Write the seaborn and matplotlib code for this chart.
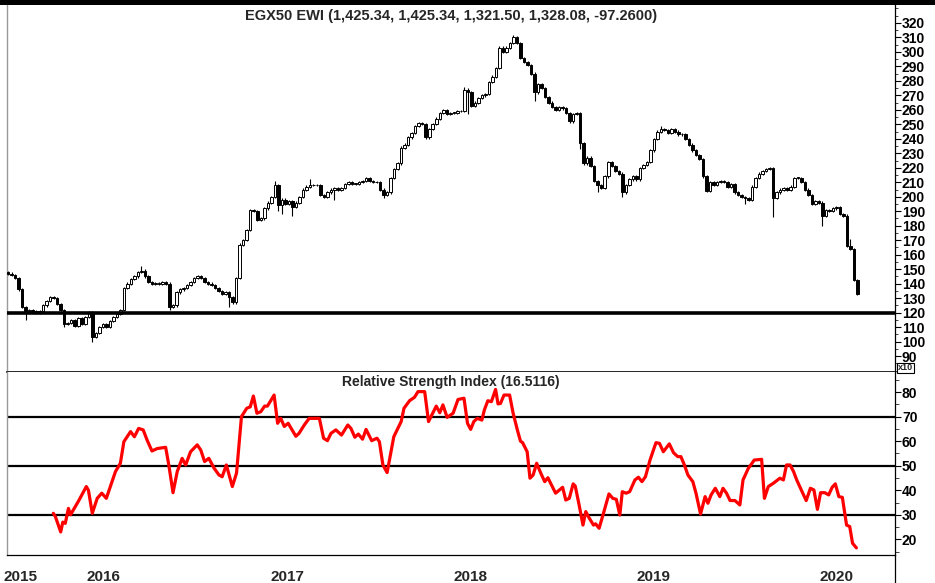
import numpy as np
import pandas as pd
import matplotlib
matplotlib.use('Agg')
import matplotlib.pyplot as plt
import matplotlib.transforms as mtransforms
from matplotlib.patches import Rectangle
from matplotlib.ticker import MultipleLocator, FixedLocator
import seaborn as sns

# weekly candles, EGX50 EWI (price shown x10)
start_date = pd.Timestamp('2015-08-04')
first_open = 148.0
closes = [
    147, 146, 144, 136, 124, 121, 122, 121, 120, 121,
    125, 128, 131, 130, 126, 122, 112, 113, 115, 111,
    116, 112, 117, 120, 103, 106, 110, 112, 110, 114,
    117, 119, 122, 137, 140, 143, 145, 148, 149, 145,
    141, 140, 140, 140, 141, 140, 124, 125, 134, 136,
    137, 139, 141, 144, 145, 144, 141, 140, 139, 137,
    135, 133, 134, 131, 127, 144, 167, 170, 177, 191,
    190, 184, 185, 192, 196, 200, 208, 194, 198, 195,
    197, 193, 196, 200, 205, 207, 208, 208, 208, 201,
    200, 203, 205, 206, 205, 206, 209, 210, 209, 209,
    210, 211, 213, 211, 210, 210, 205, 201, 203, 213,
    219, 223, 234, 236, 241, 244, 249, 251, 250, 241,
    247, 250, 254, 258, 260, 257, 258, 258, 259, 259,
    274, 272, 263, 265, 268, 270, 271, 279, 283, 289,
    303, 300, 303, 306, 310, 306, 296, 293, 291, 285,
    272, 278, 275, 269, 265, 262, 260, 262, 261, 258,
    252, 257, 258, 237, 223, 227, 221, 211, 208, 206,
    214, 224, 221, 218, 216, 203, 208, 212, 214, 212,
    220, 222, 224, 232, 240, 245, 247, 246, 244, 247,
    245, 243, 243, 240, 236, 232, 229, 226, 214, 204,
    210, 208, 210, 211, 210, 207, 209, 203, 201, 200,
    199, 198, 207, 213, 216, 218, 219, 220, 199, 203,
    205, 206, 205, 207, 213, 213, 210, 205, 201, 195,
    197, 196, 187, 191, 190, 192, 193, 188, 187, 166,
    164, 142.534, 132.808,
]
# notable long wicks (week index -> price)
wick_low = {5: 115, 16: 110, 24: 100, 46: 122, 63: 124, 77: 190, 78: 188,
            81: 187, 93: 198, 107: 199, 131: 257, 150: 266, 163: 233,
            168: 203, 175: 200, 210: 195, 218: 186, 232: 180, 242: 132.15}
wick_high = {38: 152, 76: 211, 86: 212, 130: 276, 144: 312, 186: 249,
             240: 171}

# RSI line, read as (week index, value)
rsi_week = [12.9, 13.5, 15.0, 15.6, 16.3, 17.2, 17.8, 20.0, 22.3, 22.9,
            24.0, 25.4, 26.7, 28.0, 30.6, 32.0, 33.0, 34.9, 36.0, 37.2,
            38.5, 39.6, 41.0, 42.5, 44.9, 45.8, 47.0, 48.2, 49.6, 50.6,
            52.0, 53.9, 54.9, 56.0, 57.2, 58.7, 60.1, 61.0, 62.2, 63.9,
            65.1, 66.5, 68.0, 69.0, 69.9, 70.9, 72.0, 73.1, 73.9, 75.8,
            76.8, 77.7, 78.7, 79.8, 82.0, 82.9, 84.4, 85.8, 88.7, 89.9,
            91.0, 92.0, 93.4, 95.0, 96.8, 97.7, 98.8, 99.8, 101.0, 102.0,
            103.6, 105.1, 105.8, 106.8, 108.0, 109.9, 112.0, 112.8, 114.4, 115.8,
            116.8, 118.7, 119.8, 122.0, 123.0, 123.9, 125.1, 126.8, 128.2, 129.9,
            130.9, 131.8, 132.7, 133.7, 135.0, 135.7, 136.7, 137.7, 138.9, 139.6,
            140.3, 141.3, 142.9, 143.9, 145.1, 146.0, 146.6, 147.9, 148.7, 149.6,
            150.6, 151.8, 152.9, 153.8, 156.0, 158.0, 158.9, 159.9, 161.0, 161.6,
            162.7, 163.8, 164.6, 165.6, 166.8, 167.4, 168.4, 169.5, 171.2, 172.3,
            173.3, 174.3, 175.0, 176.1, 177.1, 178.6, 179.6, 180.6, 181.6, 182.9,
            184.6, 185.6, 186.7, 188.4, 189.6, 190.8, 191.7, 192.7, 193.7, 195.1,
            196.0, 197.3, 198.6, 199.4, 200.3, 201.5, 202.8, 203.7, 204.7, 205.7,
            207.1, 208.5, 209.4, 210.9, 212.6, 214.7, 215.5, 216.6, 218.0, 219.9,
            220.9, 221.8, 222.8, 223.8, 224.7, 226.0, 227.4, 228.6, 229.6, 230.6,
            231.5, 232.7, 233.8, 234.8, 235.7, 236.7, 237.7, 238.9, 239.8, 240.6,
            241.7]
rsi_value = [30.6, 29.2, 23.0, 27.0, 26.5, 32.6, 30.0, 35.4, 41.5, 40.0,
             30.6, 36.7, 38.8, 36.7, 47.6, 51.0, 59.8, 63.9, 61.8, 65.2,
             64.6, 60.5, 56.0, 57.0, 57.5, 50.3, 39.0, 47.6, 53.0, 50.3,
             55.7, 58.5, 56.4, 51.7, 53.0, 49.0, 46.2, 45.5, 50.3, 41.5,
             47.0, 70.0, 73.4, 74.0, 78.4, 71.4, 72.0, 74.3, 74.3, 78.8,
             67.3, 69.3, 66.0, 67.3, 62.0, 63.2, 66.6, 69.3, 69.3, 61.2,
             60.2, 63.2, 64.6, 62.5, 66.6, 65.2, 61.6, 62.9, 60.8, 64.8,
             60.2, 61.2, 59.8, 50.3, 47.2, 61.8, 68.0, 73.4, 76.5, 77.9,
             80.2, 80.2, 68.0, 74.3, 71.6, 74.8, 69.7, 71.4, 77.0, 77.5,
             67.3, 64.8, 68.0, 69.3, 68.6, 72.7, 76.5, 76.1, 81.1, 75.2,
             75.4, 78.8, 78.8, 71.4, 64.6, 60.0, 59.4, 55.7, 44.9, 46.2,
             51.0, 46.9, 43.5, 45.1, 38.8, 41.2, 36.0, 36.7, 42.6, 41.7,
             34.0, 25.8, 31.3, 28.6, 25.8, 26.3, 24.5, 29.9, 38.5, 36.7,
             36.3, 29.9, 39.4, 38.8, 39.4, 44.2, 45.3, 43.5, 45.5, 52.3,
             59.4, 59.1, 55.7, 58.9, 55.3, 53.7, 53.7, 50.3, 46.2, 43.5,
             38.8, 30.3, 37.4, 34.7, 38.1, 40.8, 37.4, 40.8, 38.8, 35.8,
             35.8, 34.0, 44.2, 48.9, 52.3, 52.6, 36.7, 41.5, 42.8, 44.9,
             44.2, 50.3, 50.3, 47.6, 44.2, 40.1, 35.8, 40.8, 40.1, 32.2,
             39.0, 39.0, 38.1, 41.2, 42.6, 37.4, 37.1, 25.8, 25.2, 18.4,
             16.5]

support_level = 120
rsi_levels = [30, 50, 70]
years = [2016, 2017, 2018, 2019, 2020]

price_title = 'EGX50 EWI (1,425.34, 1,425.34, 1,321.50, 1,328.08, -97.2600)'
rsi_title = 'Relative Strength Index (16.5116)'

sns.set_style('white')
plt.rcParams['font.family'] = ['Liberation Sans', 'DejaVu Sans']
plt.rcParams['font.weight'] = 'bold'

W, H = 935, 583
fig = plt.figure(figsize=(W / 100, H / 100), dpi=100)
L, R = 7 / W, 895 / W
ax1 = fig.add_axes([L, 1 - 372 / H, R - L, 367 / H])
ax2 = fig.add_axes([L, 1 - 555 / H, R - L, 183 / H])

# candles
closes = np.array(closes, dtype=float)
opens = np.concatenate([[first_open], closes[:-1]])
xs = np.arange(len(closes))
body_lo = np.minimum(opens, closes)
body_hi = np.maximum(opens, closes)
lows = np.array([wick_low.get(i, body_lo[i] - 0.8) for i in xs])
highs = np.array([wick_high.get(i, body_hi[i] + 0.8) for i in xs])
up = closes >= opens

ax1.vlines(xs, lows, highs, color='black', lw=0.8, zorder=2)
heights = np.maximum(body_hi - body_lo, 0.4)
ax1.bar(xs[up], heights[up], bottom=body_lo[up], width=0.72,
        facecolor='white', edgecolor='black', lw=0.7, zorder=3)
ax1.bar(xs[~up], heights[~up], bottom=body_lo[~up], width=0.72,
        facecolor='black', edgecolor='black', lw=0.7, zorder=3)
ax1.axhline(support_level, color='black', lw=2.6, zorder=4)

x0, x1 = -0.3, 252.7
ax1.set_xlim(x0, x1)
ax1.set_ylim(79.0, 332.4)
ax1.set_xticks([])
ax1.yaxis.tick_right()
ax1.yaxis.set_major_locator(FixedLocator(np.arange(90, 321, 10)))
ax1.yaxis.set_minor_locator(MultipleLocator(5))
ax1.tick_params(axis='y', which='major', length=4, width=0.8, pad=1,
                labelsize=10, colors='black')
ax1.tick_params(axis='y', which='minor', length=2.5, width=0.6)
ax1.text(0.5, 0.988, price_title, transform=ax1.transAxes, ha='center',
         va='top', fontsize=10.5, fontweight='bold')

# RSI panel
for lv in rsi_levels:
    ax2.axhline(lv, color='black', lw=1.6, zorder=1)
sns.lineplot(x=rsi_week, y=rsi_value, ax=ax2, color='#ff0000', lw=2.3,
             sort=False, zorder=3)
ax2.set_xlim(x0, x1)
ax2.set_ylim(13.6, 88.2)
ax2.set_xlabel('')
ax2.set_ylabel('')
ax2.yaxis.tick_right()
ax2.yaxis.set_major_locator(FixedLocator(np.arange(20, 81, 10)))
ax2.yaxis.set_minor_locator(MultipleLocator(5))
ax2.tick_params(axis='y', which='major', length=4, width=0.8, pad=1,
                labelsize=10, colors='black')
ax2.tick_params(axis='y', which='minor', length=3, width=0.6)
ax2.text(0.5, 0.985, rsi_title, transform=ax2.transAxes, ha='center',
         va='top', fontsize=10, fontweight='bold')

# date axis: year ticks and month ticks
def week_of(d):
    return (pd.Timestamp(d) - start_date).days / 7.0

year_pos = [week_of(f'{y}-01-01') for y in years]
month_pos = [week_of(d) for d in pd.date_range('2015-09-01', '2020-06-01', freq='MS')]
ax2.xaxis.set_major_locator(FixedLocator(year_pos))
ax2.xaxis.set_minor_locator(FixedLocator(month_pos))
ax2.set_xticklabels([])
ax2.tick_params(axis='x', which='major', length=28, width=0.9, colors='black')
ax2.tick_params(axis='x', which='minor', length=7, width=0.7)
blend = mtransforms.blended_transform_factory(ax2.transData, ax2.transAxes)
ax2.text(x0 - 1.0, -0.12, '2015', transform=blend, ha='left', va='center',
         fontsize=11, fontweight='bold', clip_on=False)
for y, p in zip(years, year_pos):
    ax2.text(p + 1.0, -0.12, str(y), transform=blend, ha='left', va='center',
             fontsize=11, fontweight='bold', clip_on=False)

for ax in (ax1, ax2):
    for s in ('left', 'right', 'top', 'bottom'):
        ax.spines[s].set_visible(True)
    ax.spines['left'].set_color('#9a9a9a')
    ax.spines['left'].set_linewidth(1.0)
    ax.spines['right'].set_color('black')
    ax.spines['right'].set_linewidth(0.9)
    ax.spines['bottom'].set_color('black')
    ax.spines['bottom'].set_linewidth(0.9)
ax1.spines['top'].set_visible(False)
ax2.spines['top'].set_visible(False)
ax1.spines['bottom'].set_linewidth(1.2)

# thick bar across the top edge and right axis line running to the bottom
fig.patches.append(Rectangle((0, 1 - 5 / H), 1, 5 / H, transform=fig.transFigure,
                             facecolor='black', edgecolor='none'))
fig.add_artist(plt.Line2D([R, R], [0, 1 - 555 / H], transform=fig.transFigure,
                          color='black', lw=0.9))

# "x10" scale marker below the price axis labels
fig.text(897.5 / W, 1 - 372.5 / H, 'x10', ha='left', va='bottom', fontsize=6.5,
         fontweight='bold', zorder=10,
         bbox=dict(boxstyle='square,pad=0.1', fc='white', ec='black', lw=0.8))

fig.savefig('out.png', dpi=100)
